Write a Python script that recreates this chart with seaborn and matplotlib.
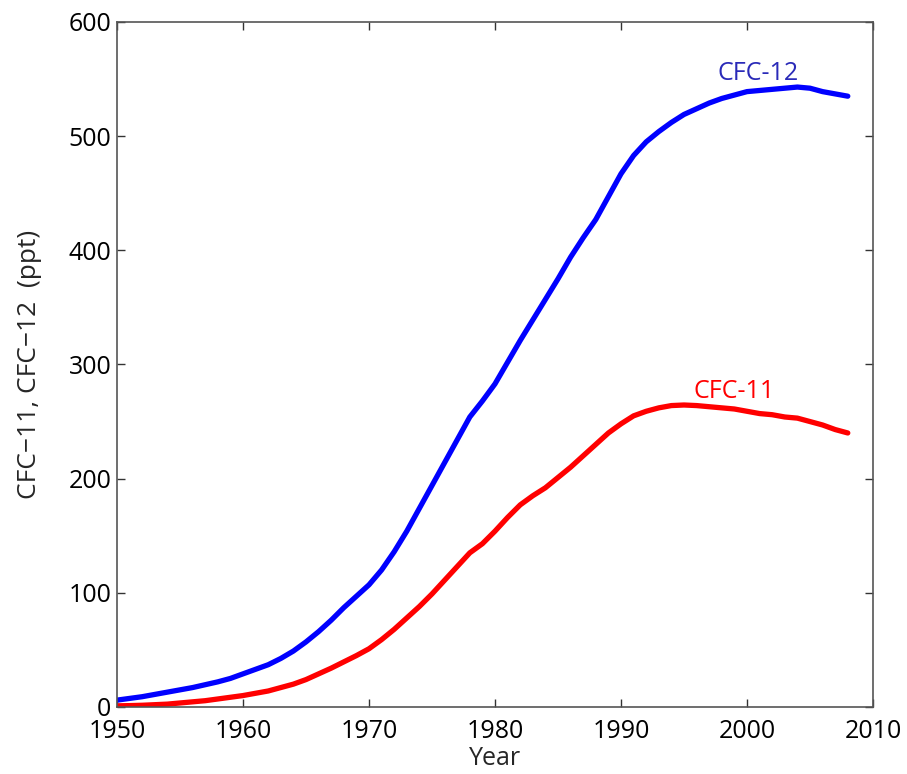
import numpy as np
import pandas as pd
import matplotlib
matplotlib.use("Agg")
import matplotlib.pyplot as plt
import seaborn as sns

# values (ppt)
years = [1950, 1951, 1952, 1953, 1954, 1955, 1956, 1957, 1958, 1959,
         1960, 1961, 1962, 1963, 1964, 1965, 1966, 1967, 1968, 1969,
         1970, 1971, 1972, 1973, 1974, 1975, 1976, 1977, 1978, 1979,
         1980, 1981, 1982, 1983, 1984, 1985, 1986, 1987, 1988, 1989,
         1990, 1991, 1992, 1993, 1994, 1995, 1996, 1997, 1998, 1999,
         2000, 2001, 2002, 2003, 2004, 2005, 2006, 2007, 2008]
cfc12 = [6, 7.5, 9, 11, 13, 15, 17, 19.5, 22, 25,
         29, 33, 37, 42.5, 49, 57, 66, 76, 87, 97,
         107, 120, 136, 154, 174, 194, 214, 234, 254, 268,
         283, 302, 321, 339, 357, 375, 394, 411, 427, 447,
         467, 483, 495, 504, 512, 519, 524, 529, 533, 536,
         539, 540, 541, 542, 543, 542, 539, 537, 535]
cfc11 = [1, 1.2, 1.5, 2, 2.5, 3.5, 4.5, 5.5, 7, 8.5,
         10, 12, 14, 17, 20, 24, 29, 34, 39.5, 45,
         51, 59, 68, 78, 88, 99, 111, 123, 135, 143,
         154, 166, 177, 185, 192, 201, 210, 220, 230, 240,
         248, 255, 259, 262, 264, 264.5, 264, 263, 262, 261,
         259, 257, 256, 254, 253, 250, 247, 243, 240]

df = pd.DataFrame({"Year": years, "CFC-12": cfc12, "CFC-11": cfc11})

sns.set_style("ticks")
plt.rcParams["font.family"] = ["Open Sans", "DejaVu Sans"]

fig = plt.figure(figsize=(9.07, 7.74), dpi=100)
ax = fig.add_axes([0.129, 0.0866, 0.8335, 0.885])

sns.lineplot(data=df, x="Year", y="CFC-12", color="#0000ff", lw=3.8, ax=ax)
sns.lineplot(data=df, x="Year", y="CFC-11", color="#ff0000", lw=3.8, ax=ax)

ax.set_xlim(1950, 2010)
ax.set_ylim(0, 600)
ax.set_xticks(range(1950, 2011, 10))
ax.set_yticks(range(0, 601, 100))

for s in ax.spines.values():
    s.set_visible(True)
    s.set_color("#555555")
    s.set_linewidth(1.2)
ax.tick_params(direction="in", length=6, width=1, color="#333333",
               top=True, right=True, labelsize=18, labelcolor="black")
ax.tick_params(axis="x", pad=9)
ax.tick_params(axis="y", pad=4)

ax.set_xlabel("Year", fontsize=18, labelpad=1)
ax.set_ylabel("CFC\u221211, CFC\u221212  (ppt)", fontsize=19, labelpad=19)

ax.text(2000.9, 549, "CFC-12", color="#2a2ab8", fontsize=18,
        ha="center", va="baseline")
ax.text(1999.0, 271, "CFC-11", color="#ff0000", fontsize=18,
        ha="center", va="baseline")

fig.savefig("out.png", dpi=100)
